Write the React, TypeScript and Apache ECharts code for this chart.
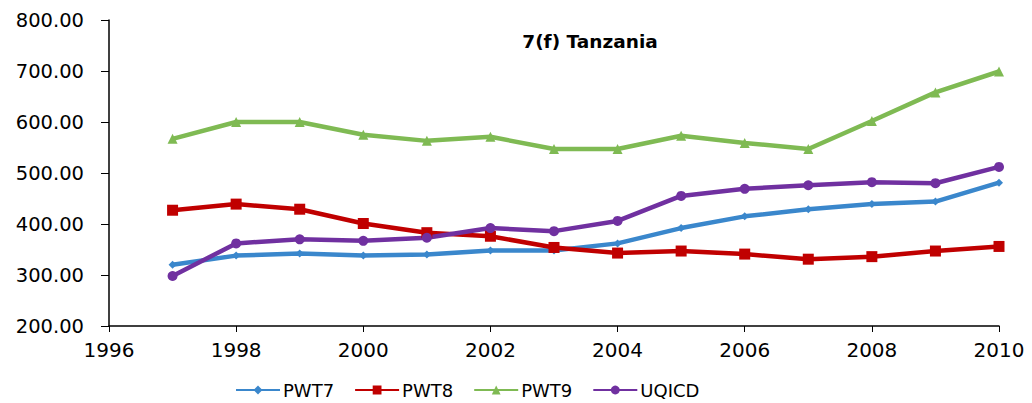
import React, { useEffect, useRef } from "react";
import * as echarts from "echarts";

const years = [1997, 1998, 1999, 2000, 2001, 2002, 2003, 2004, 2005, 2006, 2007, 2008, 2009, 2010];
const pwt7 = [320, 338, 342, 338, 340, 348, 348, 362, 392, 415, 429, 439, 444, 481];
const pwt8 = [427, 439, 429, 401, 383, 376, 354, 343, 347, 341, 331, 336, 347, 356];
const pwt9 = [567, 600, 600, 575, 563, 571, 547, 547, 573, 559, 547, 602, 658, 699];
const uqicd = [298, 362, 370, 367, 373, 392, 386, 406, 455, 469, 476, 482, 480, 512];

const FONT = "DejaVu Sans";

function pairs(vals: number[]) {
  return years.map((y, i) => [y, vals[i]]);
}

export default function App() {
  const ref = useRef<HTMLDivElement>(null);
  useEffect(() => {
    if (!ref.current) return;
    const chart = echarts.init(ref.current, undefined, { renderer: "svg" });
    const mk = (name: string, data: number[], color: string, symbol: string, size: number) => ({
      name,
      type: "line",
      data: pairs(data),
      symbol,
      symbolSize: size,
      lineStyle: { width: 4.5, color },
      itemStyle: { color },
      emphasis: { disabled: true },
    });
    chart.setOption({
      animation: false,
      backgroundColor: "#ffffff",
      title: {
        text: "7(f) Tanzania",
        left: 585,
        textAlign: "center",
        top: 27,
        textStyle: { fontFamily: FONT, fontSize: 18.5, fontWeight: "bold", color: "#000" },
      },
      legend: {
        top: 379,
        left: 233,
        padding: 2,
        itemWidth: 44,
        itemHeight: 11,
        itemGap: 20,
        textStyle: { fontFamily: FONT, fontSize: 18, color: "#000", padding: [0, 0, 0, -2] },
        data: ["PWT7", "PWT8", "PWT9", "UQICD"],
      },
      grid: { left: 109, right: 33, top: 20, bottom: 77, containLabel: false },
      xAxis: {
        type: "value",
        min: 1996,
        max: 2010,
        interval: 2,
        axisLine: { lineStyle: { color: "#000", width: 1.5 } },
        axisTick: { show: true, length: 6, lineStyle: { color: "#000" } },
        axisLabel: {
          fontFamily: FONT,
          fontSize: 20,
          color: "#000",
          margin: 14,
          formatter: (v: number) => String(v),
        },
        splitLine: { show: false },
      },
      yAxis: {
        type: "value",
        min: 200,
        max: 800,
        interval: 100,
        axisLine: { show: true, lineStyle: { color: "#000", width: 1.5 } },
        axisTick: { show: true, length: 8, lineStyle: { color: "#000" } },
        axisLabel: {
          fontFamily: FONT,
          fontSize: 19.5,
          color: "#000",
          margin: 25,
          formatter: (v: number) => v.toFixed(2),
        },
        splitLine: { show: false },
      },
      series: [
        mk("PWT7", pwt7, "#3A87CC", "diamond", 8),
        mk("PWT8", pwt8, "#C00000", "rect", 11),
        mk("PWT9", pwt9, "#7FBA53", "triangle", 10),
        mk("UQICD", uqicd, "#7030A0", "circle", 10),
      ],
    });
    return () => chart.dispose();
  }, []);
  return (
    <div
      ref={ref}
      style={{ position: "absolute", left: 0, top: 0, width: 1032, height: 403 }}
    />
  );
}
